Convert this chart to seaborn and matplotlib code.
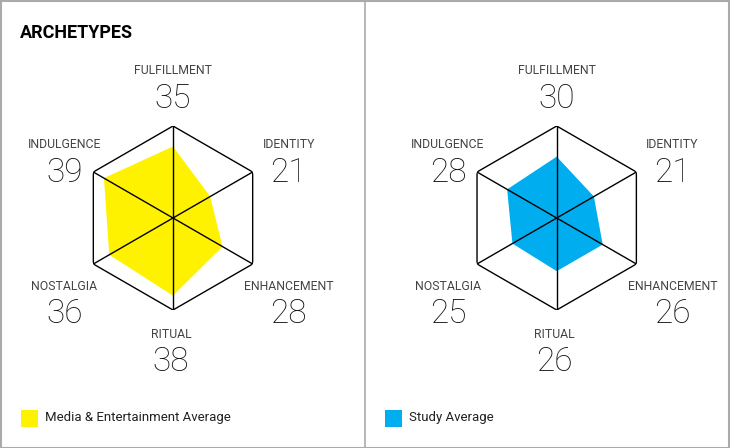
import numpy as np
import pandas as pd
import matplotlib
matplotlib.use("Agg")
import matplotlib.pyplot as plt
import seaborn as sns
from matplotlib.patches import Rectangle
from matplotlib.lines import Line2D

categories = ["FULFILLMENT", "IDENTITY", "ENHANCEMENT", "RITUAL", "NOSTALGIA", "INDULGENCE"]
media_values = [35, 21, 28, 38, 36, 39]
study_values = [30, 21, 26, 26, 25, 28]
series_names = ["Media & Entertainment Average", "Study Average"]
series_colors = ["#FFF200", "#00AEEF"]
scale_max = 45
title = "ARCHETYPES"

sns.set_theme(style="white")
LABEL_FONT = ["Roboto", "DejaVu Sans"]
NUM_FONT = ["Roboto", "DejaVu Sans"]
plt.rcParams["font.family"] = LABEL_FONT

W, H = 730, 448
fig = plt.figure(figsize=(W / 100, H / 100), dpi=100)
fig.patch.set_facecolor("white")

R = 92
centers = [(173, 218), (556.7, 218)]

# label offsets (pixels) from each vertex: (dx, label_dy, value_dy)
offsets = [(0, 55, 27), (36, 28, -1), (36, -23, -50), (-2, -24, -52), (-29, -23, -50), (-29, 28, -1)]

for (cx, cy), vals, color in zip(centers, [media_values, study_values], series_colors):
    ax = fig.add_axes([(cx - R) / W, (H - cy - R) / H, 2 * R / W, 2 * R / H], projection="polar")
    ax.set_theta_zero_location("N")
    ax.set_theta_direction(-1)
    n = len(categories)
    theta = np.arange(n) * 2 * np.pi / n
    df = pd.DataFrame({"theta": theta, "value": vals})
    ax.fill(df["theta"], df["value"], color=color, lw=0, zorder=1)
    outline = pd.DataFrame({"theta": np.append(theta, theta[0]),
                            "r": [scale_max] * (n + 1)})
    sns.lineplot(data=outline, x="theta", y="r", sort=False, estimator=None,
                 color="black", lw=1.0, ax=ax, zorder=3)
    for t in theta:
        ax.plot([t, t], [0, scale_max], color="black", lw=1.0, zorder=3)
    ax.set_ylim(0, scale_max)
    ax.grid(False)
    ax.set_xticks([])
    ax.set_yticks([])
    ax.set_xlabel("")
    ax.set_ylabel("")
    ax.spines["polar"].set_visible(False)
    ax.patch.set_alpha(0)
    for t, cat, v, (dx, ldy, vdy) in zip(theta, categories, vals, offsets):
        ax.annotate(cat, xy=(t, scale_max), xytext=(dx, ldy), textcoords="offset pixels",
                    ha="center", va="center", fontsize=8.8, color="#444444",
                    family=LABEL_FONT, annotation_clip=False)
        ax.annotate(str(v), xy=(t, scale_max), xytext=(dx, vdy), textcoords="offset pixels",
                    ha="center", va="center", fontsize=24, color="#111111",
                    family=NUM_FONT, fontweight="light", annotation_clip=False)

# title
fig.text(20 / W, 1 - 33 / H, title, ha="left", va="center", fontsize=13,
         fontweight="bold", color="black", family=["Roboto", "DejaVu Sans"])

# legends
legend_x = [21, 385]
for lx, name, color in zip(legend_x, series_names, series_colors):
    fig.add_artist(Rectangle((lx / W, (H - 427) / H), 17 / W, 17 / H,
                             transform=fig.transFigure, facecolor=color, edgecolor="none"))
    fig.text((lx + 24) / W, 1 - 417 / H, name, ha="left", va="center",
             fontsize=9.5, color="#222222", family=LABEL_FONT)

# frame and divider
fig.add_artist(Rectangle((0.5 / W, 0.5 / H), (W - 1.5) / W, (H - 1.5) / H, transform=fig.transFigure,
                         facecolor="none", edgecolor="#aaaaaa", lw=1.5))
fig.add_artist(Line2D([365 / W, 365 / W], [0, 1], transform=fig.transFigure,
                      color="#aaaaaa", lw=1.2))

fig.savefig("out.png", dpi=100, facecolor="white")
